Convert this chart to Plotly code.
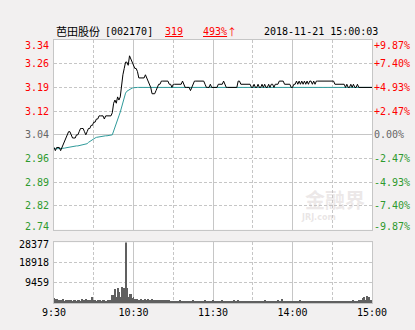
import plotly.graph_objects as go

# ---------------- data ----------------
minutes = list(range(241))
x_tick_vals = [0, 60, 120, 180, 240]
x_tick_text = ["9:30", "10:30", "11:30", "14:00", "15:00"]
x_minor_vals = [30, 90, 150, 210]

price = [
    3.00, 2.99, 3.00, 3.00, 3.00, 2.99, 3.00, 3.01, 3.02, 3.03,
    3.04, 3.05, 3.05, 3.04, 3.03, 3.03, 3.03, 3.04, 3.04, 3.05,
    3.06, 3.06, 3.06, 3.05, 3.04, 3.05, 3.06, 3.06, 3.07, 3.07,
    3.08, 3.08, 3.09, 3.09, 3.10, 3.10, 3.10, 3.10, 3.09, 3.10,
    3.10, 3.10, 3.10, 3.10, 3.11, 3.14, 3.15, 3.14, 3.16, 3.15,
    3.16, 3.20, 3.23, 3.25, 3.27, 3.27, 3.26, 3.29, 3.28, 3.27,
    3.26, 3.25, 3.25, 3.24, 3.22, 3.22, 3.22, 3.22, 3.22, 3.23,
    3.22, 3.21, 3.20, 3.19, 3.17, 3.17, 3.17, 3.18, 3.19, 3.20,
    3.20, 3.21, 3.21, 3.21, 3.21, 3.21, 3.21, 3.20, 3.20, 3.19,
    3.20, 3.20, 3.20, 3.20, 3.20, 3.20, 3.20, 3.21, 3.20, 3.19,
    3.19, 3.19, 3.19, 3.18, 3.19, 3.20, 3.21, 3.21, 3.21, 3.21,
    3.21, 3.21, 3.21, 3.21, 3.20, 3.19, 3.19, 3.19, 3.20, 3.19,
    3.19, 3.19, 3.19, 3.19, 3.20, 3.20, 3.20, 3.20, 3.21, 3.20,
    3.19, 3.19, 3.19, 3.19, 3.19, 3.19, 3.19, 3.19, 3.19, 3.21,
    3.21, 3.20, 3.20, 3.20, 3.20, 3.20, 3.20, 3.20, 3.20, 3.19,
    3.19, 3.20, 3.19, 3.19, 3.20, 3.19, 3.19, 3.20, 3.19, 3.20,
    3.19, 3.19, 3.20, 3.19, 3.20, 3.20, 3.19, 3.20, 3.20, 3.20,
    3.21, 3.21, 3.21, 3.21, 3.20, 3.20, 3.20, 3.20, 3.20, 3.19,
    3.19, 3.20, 3.20, 3.21, 3.20, 3.21, 3.20, 3.21, 3.20, 3.21,
    3.20, 3.21, 3.20, 3.21, 3.21, 3.20, 3.21, 3.20, 3.21, 3.21,
    3.21, 3.21, 3.21, 3.21, 3.21, 3.21, 3.21, 3.21, 3.21, 3.21,
    3.21, 3.21, 3.20, 3.20, 3.20, 3.20, 3.20, 3.20, 3.20, 3.20,
    3.19, 3.20, 3.19, 3.19, 3.20, 3.19, 3.20, 3.19, 3.19, 3.20,
    3.19, 3.19, 3.19, 3.19, 3.19, 3.19, 3.19, 3.19, 3.19, 3.19, 3.19,
]

avg_price = [
    3.000, 2.995, 2.996, 2.996, 2.997, 2.996, 2.996, 2.997, 2.998, 2.999,
    3.000, 3.001, 3.002, 3.003, 3.003, 3.004, 3.004, 3.005, 3.005, 3.006,
    3.007, 3.008, 3.009, 3.010, 3.011, 3.012, 3.016, 3.019, 3.022, 3.026,
    3.028, 3.030, 3.032, 3.033, 3.034, 3.035, 3.035, 3.036, 3.036, 3.037,
    3.037, 3.038, 3.038, 3.039, 3.040, 3.052, 3.066, 3.076, 3.088, 3.100,
    3.112, 3.128, 3.148, 3.162, 3.172, 3.178, 3.181, 3.184, 3.186, 3.188,
    3.189, 3.190, 3.190, 3.190, 3.190, 3.190, 3.190, 3.190, 3.190, 3.190,
    3.190, 3.190, 3.190, 3.190, 3.190, 3.190, 3.190, 3.190, 3.190, 3.190,
    3.190, 3.190, 3.190, 3.190, 3.190, 3.190, 3.190, 3.190, 3.190, 3.190,
    3.190, 3.190, 3.190, 3.190, 3.190, 3.190, 3.190, 3.190, 3.190, 3.190,
    3.190, 3.190, 3.190, 3.190, 3.190, 3.190, 3.190, 3.190, 3.190, 3.190,
    3.190, 3.190, 3.190, 3.190, 3.190, 3.190, 3.190, 3.190, 3.190, 3.190,
    3.190, 3.190, 3.190, 3.190, 3.190, 3.190, 3.190, 3.190, 3.190, 3.190,
    3.190, 3.190, 3.190, 3.190, 3.190, 3.190, 3.190, 3.190, 3.190, 3.190,
    3.190, 3.190, 3.190, 3.190, 3.190, 3.190, 3.190, 3.190, 3.190, 3.190,
    3.190, 3.190, 3.190, 3.190, 3.190, 3.190, 3.190, 3.190, 3.190, 3.190,
    3.190, 3.190, 3.190, 3.190, 3.190, 3.190, 3.190, 3.190, 3.190, 3.190,
    3.190, 3.190, 3.190, 3.190, 3.190, 3.190, 3.190, 3.190, 3.190, 3.190,
    3.190, 3.190, 3.190, 3.190, 3.190, 3.190, 3.190, 3.190, 3.190, 3.190,
    3.190, 3.190, 3.190, 3.190, 3.190, 3.190, 3.190, 3.190, 3.190, 3.190,
    3.190, 3.190, 3.190, 3.190, 3.190, 3.190, 3.190, 3.190, 3.190, 3.190,
    3.190, 3.190, 3.190, 3.190, 3.190, 3.190, 3.190, 3.190, 3.190, 3.190,
    3.190, 3.190, 3.190, 3.190, 3.190, 3.190, 3.190, 3.190, 3.190, 3.190,
    3.190, 3.190, 3.190, 3.190, 3.190, 3.190, 3.190, 3.190, 3.190, 3.190, 3.190,
]

volume = [
    2000, 1500, 1700, 1200, 1400, 1300, 1100, 1500, 900, 1200,
    1000, 1300, 800, 1100, 900, 1000, 1200, 800, 1100, 1300,
    900, 1500, 1200, 1000, 1800, 1300, 1100, 1400, 1200, 2500,
    1400, 1100, 800, 1000, 900, 1200, 700, 1000, 1300, 800,
    900, 1100, 1000, 1200, 3700, 3700, 6300, 2500, 7000, 4800,
    2600, 7300, 7000, 6800, 28377, 7000, 2800, 4000, 4000, 2200,
    2800, 1900, 1800, 1500, 1300, 1200, 1500, 1100, 1300, 1600,
    1100, 1800, 1200, 1400, 1500, 1300, 1000, 1200, 1400, 1100,
    900, 1300, 1000, 800, 1100, 1200, 900, 1000, 700, 900,
    800, 700, 900, 600, 800, 1000, 700, 600, 800, 900,
    700, 800, 600, 900, 700, 1000, 800, 600, 700, 900,
    800, 700, 600, 800, 1100, 700, 600, 800, 700, 900,
    1200, 800, 700, 900, 600, 800, 700, 1000, 800, 600,
    700, 900, 800, 600, 700, 800, 1000, 700, 600, 1100,
    800, 700, 900, 600, 700, 800, 700, 600, 900, 700,
    800, 600, 700, 900, 700, 800, 600, 700, 800, 1000,
    700, 600, 800, 700, 900, 700, 600, 800, 700, 1100,
    900, 800, 1800, 700, 900, 600, 800, 700, 600, 900,
    700, 800, 600, 900, 700, 800, 1000, 700, 600, 800,
    700, 900, 600, 800, 700, 600, 900, 700, 800, 600,
    700, 800, 900, 600, 700, 800, 600, 700, 900, 700,
    800, 600, 700, 900, 800, 700, 600, 800, 700, 900,
    700, 800, 600, 900, 700, 800, 1000, 700, 800, 900,
    1100, 900, 1200, 2000, 2500, 1200, 3100, 900, 2700, 1000, 1200,
]

price_levels = [2.74, 2.815, 2.89, 2.965, 3.04, 3.115, 3.19, 3.265, 3.34]
price_labels = ["2.74", "2.82", "2.89", "2.96", "3.04", "3.12", "3.19", "3.26", "3.34"]
pct_labels = ["-9.87%", "-7.40%", "-4.93%", "-2.47%", "0.00%", "+2.47%", "+4.93%", "+7.40%", "+9.87%"]
vol_levels = [9459, 18918, 28377]
vol_labels = ["9459", "18918", "28377"]

title_cn = "芭田股份"
title_code = "[002170]"
title_price = "319"
title_pct = "493%"
title_arrow = "↑"
title_time = "2018-11-21 15:00:03"

# ---------------- style ----------------
RED = "#ff0000"
GREEN = "#2e9a2e"
GRAY = "#666666"
GRID = "#c6c6c6"
MONO = "DejaVu Sans Mono, Liberation Mono, monospace"
CJK = "Noto Sans CJK SC"

fig = go.Figure()
fig.add_trace(go.Scatter(x=minutes, y=avg_price, mode="lines",
                         line=dict(color="#2f9a9a", width=1), xaxis="x", yaxis="y",
                         hoverinfo="skip"))
fig.add_trace(go.Scatter(x=minutes, y=price, mode="lines",
                         line=dict(color="#000000", width=1), xaxis="x", yaxis="y",
                         hoverinfo="skip"))
fig.add_trace(go.Bar(x=minutes, y=volume, marker=dict(color="#606060", line=dict(width=0)),
                     width=0.75, xaxis="x2", yaxis="y2", hoverinfo="skip"))

H = 269.0
price_bottom = (309 - 234) / H
vol_top = (309 - 247) / H

xcommon = dict(range=[0, 240], showline=True, mirror=True, linecolor=GRID, linewidth=1,
               tickvals=x_tick_vals, showgrid=True, gridcolor=GRID, gridwidth=1,
               zeroline=False, ticks="", fixedrange=True,
               minor=dict(tickvals=x_minor_vals, showgrid=True, gridcolor=GRID,
                          griddash="3px,2px", gridwidth=1, ticks=""))

fig.update_layout(
    width=415, height=330,
    margin=dict(l=54, r=43, t=40, b=21),
    paper_bgcolor="#f2f0f0", plot_bgcolor="#ffffff",
    showlegend=False, bargap=0,
    xaxis=dict(domain=[0, 1], anchor="y", showticklabels=False, **xcommon),
    xaxis2=dict(domain=[0, 1], anchor="y2", showticklabels=True, ticktext=x_tick_text,
                tickfont=dict(family=MONO, size=10, color="#000000"), **xcommon),
    yaxis=dict(domain=[price_bottom, 1], range=[price_levels[0], price_levels[-1]],
               showline=True, mirror=True, linecolor=GRID, linewidth=1,
               tickvals=[price_levels[4]], showgrid=True, gridcolor=GRID, gridwidth=1,
               showticklabels=False, zeroline=False, ticks="",
               minor=dict(tickvals=price_levels[:4] + price_levels[5:], showgrid=True,
                          gridcolor=GRID, griddash="3px,2px", gridwidth=1, ticks="")),
    yaxis2=dict(domain=[0, vol_top], range=[0, vol_levels[-1]],
                showline=True, mirror=True, linecolor=GRID, linewidth=1,
                tickvals=[], showgrid=False, showticklabels=False, zeroline=False, ticks="",
                minor=dict(tickvals=vol_levels[:2], showgrid=True, gridcolor=GRID,
                           griddash="3px,2px", gridwidth=1, ticks="")),
)

annotations = []
n = len(price_levels)
for i, (lv, lab, pl) in enumerate(zip(price_levels, price_labels, pct_labels)):
    if i < 4:
        col = GREEN
    elif i == 4:
        col = GRAY
    else:
        col = RED
    shift = 0
    if i == n - 1:
        shift = -5
    elif i == 0:
        shift = 3
    annotations.append(dict(x=0, xref="paper", y=lv, yref="y", text=lab, showarrow=False,
                            xanchor="right", yanchor="middle", xshift=-3, yshift=shift,
                            font=dict(family=MONO, size=10, color=col)))
    annotations.append(dict(x=1, xref="paper", y=lv, yref="y", text=pl, showarrow=False,
                            xanchor="left", yanchor="middle", xshift=0, yshift=shift,
                            font=dict(family=MONO, size=10, color=col)))
for i, (lv, lab) in enumerate(zip(vol_levels, vol_labels)):
    shift = -2 if i == len(vol_levels) - 1 else 0
    annotations.append(dict(x=0, xref="paper", y=lv, yref="y2", text=lab, showarrow=False,
                            xanchor="right", yanchor="middle", xshift=-3, yshift=shift,
                            font=dict(family=MONO, size=10, color="#000000")))

ty = 1 + 9 / H
def px(xp):
    return (xp - 54) / 318

annotations.append(dict(x=px(54), xref="paper", y=ty, yref="paper", text=title_cn,
                        showarrow=False, xanchor="left", yanchor="middle",
                        font=dict(family=CJK, size=11, color="#000000")))
annotations.append(dict(x=px(103), xref="paper", y=ty, yref="paper", text=title_code,
                        showarrow=False, xanchor="left", yanchor="middle",
                        font=dict(family=MONO, size=10, color="#000000")))
annotations.append(dict(x=px(163), xref="paper", y=ty, yref="paper",
                        text="<u>" + title_price + "</u>",
                        showarrow=False, xanchor="left", yanchor="middle",
                        font=dict(family=MONO, size=10, color=RED)))
annotations.append(dict(x=px(201), xref="paper", y=ty, yref="paper",
                        text="<u>" + title_pct + "</u>",
                        showarrow=False, xanchor="left", yanchor="middle",
                        font=dict(family=MONO, size=10, color=RED)))
annotations.append(dict(x=px(225), xref="paper", y=ty, yref="paper", text=title_arrow,
                        showarrow=False, xanchor="left", yanchor="middle",
                        font=dict(family=CJK, size=10, color=RED)))
annotations.append(dict(x=px(262), xref="paper", y=ty, yref="paper", text=title_time,
                        showarrow=False, xanchor="left", yanchor="middle",
                        font=dict(family=MONO, size=10, color="#000000")))

# faint watermark
annotations.append(dict(x=px(335), xref="paper", y=(309 - 203) / H, yref="paper",
                        text="<b>金融界</b>", showarrow=False, xanchor="center", yanchor="middle",
                        font=dict(family=CJK, size=20, color="rgba(200,190,190,0.35)")))
annotations.append(dict(x=px(318), xref="paper", y=(309 - 222) / H, yref="paper",
                        text="<b>JRJ.com</b>", showarrow=False, xanchor="center", yanchor="middle",
                        font=dict(family="DejaVu Sans", size=8, color="rgba(200,190,190,0.4)")))

fig.update_layout(annotations=annotations)
fig.write_html("out.html")
